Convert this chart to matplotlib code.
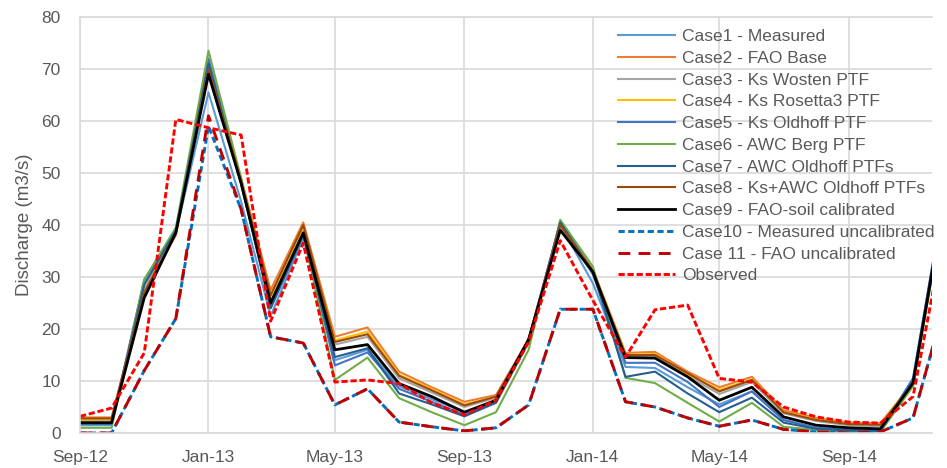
"""Monthly discharge, simulated cases vs observed (Sep-2012 .. Dec-2014)."""

import matplotlib as mpl
import matplotlib.dates as mdates
import matplotlib.pyplot as plt
import pandas as pd

mpl.rcParams["font.family"] = ["Liberation Sans", "DejaVu Sans"]
mpl.rcParams["lines.scale_dashes"] = False

MONTHS = pd.date_range("2012-09-01", periods=28, freq="MS")

CASE1 = [1.5, 1.5, 29.0, 38.5, 65.5, 44.5, 22.5, 37.5, 14.0, 16.0, 9.0, 6.5, 4.0, 6.0,
         18.0, 40.0, 28.8, 12.7, 12.5, 8.8, 5.5, 8.0, 2.5, 1.0, 0.6, 0.5, 10.5, 46.0]
CASE2 = [3.0, 3.0, 27.5, 38.0, 70.0, 49.0, 27.5, 40.5, 18.5, 20.3, 11.8, 8.8, 6.0, 7.3,
         18.0, 40.5, 31.5, 15.4, 15.6, 11.8, 8.8, 10.8, 4.4, 2.9, 2.0, 1.9, 9.5, 44.0]
CASE3 = [2.5, 2.5, 27.5, 39.0, 71.0, 48.0, 26.0, 39.5, 17.0, 18.5, 10.5, 7.8, 5.0, 6.8,
         18.0, 40.5, 31.0, 14.8, 14.8, 11.0, 7.5, 9.8, 3.8, 2.3, 1.5, 1.3, 10.0, 45.0]
CASE4 = [2.6, 2.6, 27.0, 38.5, 70.5, 48.5, 26.0, 39.5, 17.8, 19.5, 11.2, 8.4, 5.5, 7.0,
         18.0, 40.0, 31.0, 15.0, 15.2, 11.3, 8.3, 10.3, 4.1, 2.6, 1.8, 1.7, 9.8, 44.5]
CASE5 = [1.8, 1.8, 29.5, 39.0, 72.0, 48.5, 24.0, 38.5, 13.0, 15.5, 8.5, 6.0, 3.5, 6.0,
         18.0, 40.5, 30.5, 13.5, 13.5, 9.8, 5.0, 8.0, 2.5, 1.0, 0.6, 0.5, 10.5, 46.0]
CASE6 = [1.0, 1.0, 29.5, 39.5, 73.5, 49.0, 25.0, 38.5, 10.2, 14.5, 6.7, 4.0, 1.5, 4.0,
         16.0, 41.0, 32.0, 10.6, 9.6, 5.8, 2.2, 5.8, 1.2, 0.6, 0.3, 0.2, 9.0, 44.0]
CASE7 = [1.8, 1.8, 28.5, 39.0, 71.0, 48.0, 24.0, 38.0, 14.6, 16.3, 7.6, 5.5, 3.2, 5.8,
         17.5, 40.5, 31.0, 10.8, 11.8, 7.6, 4.0, 6.8, 2.0, 0.8, 0.5, 0.4, 10.0, 45.5]
CASE8 = [2.8, 2.8, 27.0, 38.5, 70.0, 48.5, 26.5, 40.0, 17.5, 19.0, 11.0, 8.2, 5.3, 7.0,
         18.0, 40.0, 31.0, 15.0, 15.0, 11.5, 8.0, 10.2, 4.0, 2.5, 1.7, 1.6, 9.5, 44.5]
CASE9 = [2.0, 2.0, 26.0, 38.5, 69.0, 48.0, 25.0, 38.5, 16.0, 17.0, 9.5, 7.0, 4.0, 6.3,
         18.0, 39.0, 31.0, 14.5, 14.4, 10.8, 6.3, 8.8, 3.1, 1.5, 1.0, 0.8, 9.6, 45.0]
CASE10 = [0.0, 0.0, 12.0, 22.0, 59.0, 43.0, 18.5, 17.3, 5.4, 8.5, 2.1, 1.2, 0.4, 1.0,
          5.4, 23.8, 23.8, 6.0, 5.0, 2.9, 1.3, 2.5, 0.7, 0.2, 0.0, 0.2, 2.9, 24.7]
CASE11 = [0.0, 0.0, 12.0, 22.0, 61.0, 43.0, 18.5, 17.3, 5.4, 8.5, 2.1, 1.2, 0.4, 1.0,
          5.4, 23.8, 23.8, 6.0, 5.0, 2.9, 1.3, 2.5, 0.7, 0.2, 0.0, 0.2, 2.9, 24.7]
OBSERVED = [3.2, 4.8, 15.4, 60.3, 58.7, 57.3, 21.5, 36.5, 9.8, 10.2, 9.5, 5.8, 3.5, 6.3,
            17.5, 37.0, 25.5, 14.6, 23.7, 24.6, 10.5, 9.8, 5.0, 3.1, 2.1, 1.9, 7.0, 39.0]

# label, values, colour, linewidth, linestyle
SERIES = [
    ("Case1 - Measured", CASE1, "#5B9BD5", 1.5, "-"),
    ("Case2 - FAO Base", CASE2, "#ED7D31", 1.5, "-"),
    ("Case3 - Ks Wosten PTF", CASE3, "#A5A5A5", 1.5, "-"),
    ("Case4 - Ks Rosetta3 PTF", CASE4, "#FFC000", 1.5, "-"),
    ("Case5 - Ks Oldhoff PTF", CASE5, "#4472C4", 1.5, "-"),
    ("Case6 - AWC Berg PTF", CASE6, "#70AD47", 1.5, "-"),
    ("Case7 - AWC Oldhoff PTFs", CASE7, "#255E91", 1.5, "-"),
    ("Case8 - Ks+AWC Oldhoff PTFs", CASE8, "#9E480E", 1.5, "-"),
    ("Case9 - FAO-soil calibrated", CASE9, "#000000", 2.0, "-"),
    ("Case10 - Measured uncalibrated", CASE10, "#0070C0", 2.1, (0, (4.5, 2.5))),
    ("Case 11 - FAO uncalibrated", CASE11, "#C00000", 2.1, (0, (8.5, 6.0))),
    ("Observed", OBSERVED, "#FF0000", 2.1, (0, (4.5, 2.0))),
]

GREY = "#595959"
GRID = "#D9D9D9"

fig = plt.figure(figsize=(9.47, 4.68), dpi=100)
ax = fig.add_axes([80 / 947, 1 - 433 / 468, 852 / 947, 416 / 468])

for label, vals, color, lw, ls in SERIES:
    ax.plot(MONTHS, vals, color=color, lw=lw, linestyle=ls, label=label)

ax.set_ylim(0, 80)
ax.set_yticks(range(0, 81, 10))
ax.set_xlim(pd.Timestamp("2012-09-01"), pd.Timestamp("2014-11-19"))
ax.xaxis.set_major_locator(mdates.MonthLocator(bymonth=[1, 5, 9]))
ax.xaxis.set_major_formatter(mdates.DateFormatter("%b-%y"))

ax.grid(True, color=GRID, lw=1.2)
ax.set_axisbelow(True)
for side in ("top", "left", "bottom"):
    ax.spines[side].set_color(GRID)
    ax.spines[side].set_linewidth(1.2)
ax.spines["right"].set_visible(False)
ax.tick_params(length=0, labelsize=12.5, labelcolor=GREY)
ax.tick_params(axis="x", pad=12)
ax.tick_params(axis="y", pad=14)
ax.set_ylabel("Discharge (m3/s)", fontsize=13.5, color=GREY, labelpad=6)

ax.legend(
    loc="upper left",
    bbox_to_anchor=(618 / 947, 1 - 29 / 468),
    bbox_transform=fig.transFigure,
    frameon=False,
    fontsize=12.5,
    labelcolor=GREY,
    handlelength=3.3,
    handletextpad=0.4,
    labelspacing=0.38,
    borderpad=0,
    borderaxespad=0,
)

fig.savefig("out.png", dpi=100, facecolor="white")
